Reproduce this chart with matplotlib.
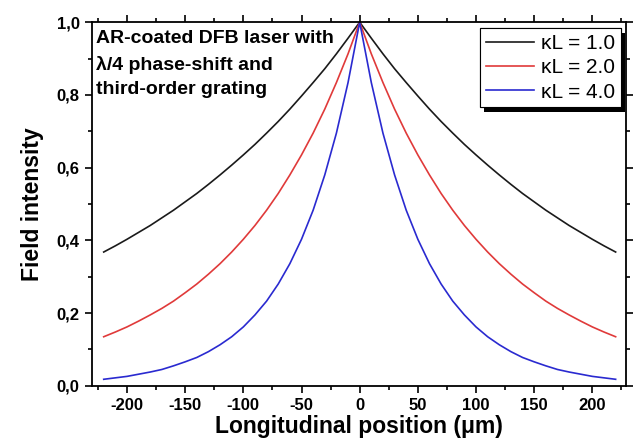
import matplotlib
matplotlib.use("Agg")
import matplotlib.pyplot as plt
import matplotlib.patheffects as pe
from matplotlib.ticker import MultipleLocator, FuncFormatter

# Longitudinal position (um)
position = [-220, -210, -200, -190, -180, -170, -160, -150, -140, -130, -120,
            -110, -100, -90, -80, -70, -60, -50, -40, -30, -20, -10, 0,
            10, 20, 30, 40, 50, 60, 70, 80, 90, 100, 110, 120, 130, 140,
            150, 160, 170, 180, 190, 200, 210, 220]

# Field intensity, kappa*L = 1.0
kl1 = [0.368, 0.385, 0.403, 0.422, 0.441, 0.462, 0.483, 0.506, 0.529, 0.554, 0.580,
       0.607, 0.635, 0.664, 0.695, 0.727, 0.761, 0.797, 0.834, 0.872, 0.913, 0.956, 1.000,
       0.956, 0.913, 0.872, 0.834, 0.797, 0.761, 0.727, 0.695, 0.664, 0.635, 0.607, 0.580,
       0.554, 0.529, 0.506, 0.483, 0.462, 0.441, 0.422, 0.403, 0.385, 0.368]

# Field intensity, kappa*L = 2.0
kl2 = [0.135, 0.148, 0.162, 0.178, 0.195, 0.213, 0.233, 0.256, 0.280, 0.307, 0.336,
       0.368, 0.403, 0.441, 0.483, 0.529, 0.580, 0.635, 0.695, 0.761, 0.834, 0.913, 1.000,
       0.913, 0.834, 0.761, 0.695, 0.635, 0.580, 0.529, 0.483, 0.441, 0.403, 0.368, 0.336,
       0.307, 0.280, 0.256, 0.233, 0.213, 0.195, 0.178, 0.162, 0.148, 0.135]

# Field intensity, kappa*L = 4.0
kl4 = [0.018, 0.022, 0.026, 0.032, 0.038, 0.045, 0.055, 0.066, 0.078, 0.094, 0.113,
       0.135, 0.162, 0.195, 0.233, 0.280, 0.336, 0.403, 0.483, 0.580, 0.695, 0.834, 1.000,
       0.834, 0.695, 0.580, 0.483, 0.403, 0.336, 0.280, 0.233, 0.195, 0.162, 0.135, 0.113,
       0.094, 0.078, 0.066, 0.055, 0.045, 0.038, 0.032, 0.026, 0.022, 0.018]

labels = ["\u03baL = 1.0", "\u03baL = 2.0", "\u03baL = 4.0"]
colors = ["#1a1a1a", "#e03a3a", "#2a2ad0"]

plt.rcParams['font.family'] = ['Liberation Sans', 'DejaVu Sans']
plt.rcParams['axes.unicode_minus'] = False

fig = plt.figure(figsize=(6.35, 4.44), dpi=100)
ax = fig.add_axes([0.145, 0.131, 0.841, 0.819])

for ys, lab, c in zip([kl1, kl2, kl4], labels, colors):
    ax.plot(position, ys, color=c, lw=1.2, label=lab)

ax.set_xlim(-230, 229)
ax.set_ylim(0, 1.0)
ax.xaxis.set_major_locator(MultipleLocator(50))
ax.xaxis.set_minor_locator(MultipleLocator(25))
ax.yaxis.set_major_locator(MultipleLocator(0.2))
ax.yaxis.set_minor_locator(MultipleLocator(0.1))
ax.yaxis.set_major_formatter(FuncFormatter(lambda v, p: f"{v:.1f}".replace('.', ',')))
ax.tick_params(which='both', direction='out', top=True, right=True, width=1.2)
ax.tick_params(which='major', length=5, labelsize=12, pad=4)
ax.tick_params(which='minor', length=3)
for lbl in ax.get_xticklabels() + ax.get_yticklabels():
    lbl.set_fontweight('bold')
for s in ax.spines.values():
    s.set_linewidth(1.3)

ax.set_xlabel("Longitudinal position (\u03bcm)", fontsize=16.5, fontweight='bold', labelpad=1)
ax.set_ylabel("Field intensity", fontsize=16.5, fontweight='bold', labelpad=9)

ax.text(0.008, 0.978, "AR-coated DFB laser with\n\u03bb/4 phase-shift and\nthird-order grating",
        transform=ax.transAxes, ha='left', va='top', fontsize=14, fontweight='bold',
        linespacing=1.6)

leg = ax.legend(loc='upper right', bbox_to_anchor=(0.991, 0.983), fontsize=15,
                frameon=True, fancybox=False, edgecolor='black', framealpha=1,
                handlelength=2.3, handletextpad=0.35, borderpad=0.28,
                labelspacing=0.25, borderaxespad=0)
frame = leg.get_frame()
frame.set_linewidth(0.8)
frame.set_path_effects([pe.withSimplePatchShadow(offset=(3, -3), shadow_rgbFace='black',
                                                 alpha=1.0), pe.Normal()])

fig.savefig("out.png", dpi=100)
